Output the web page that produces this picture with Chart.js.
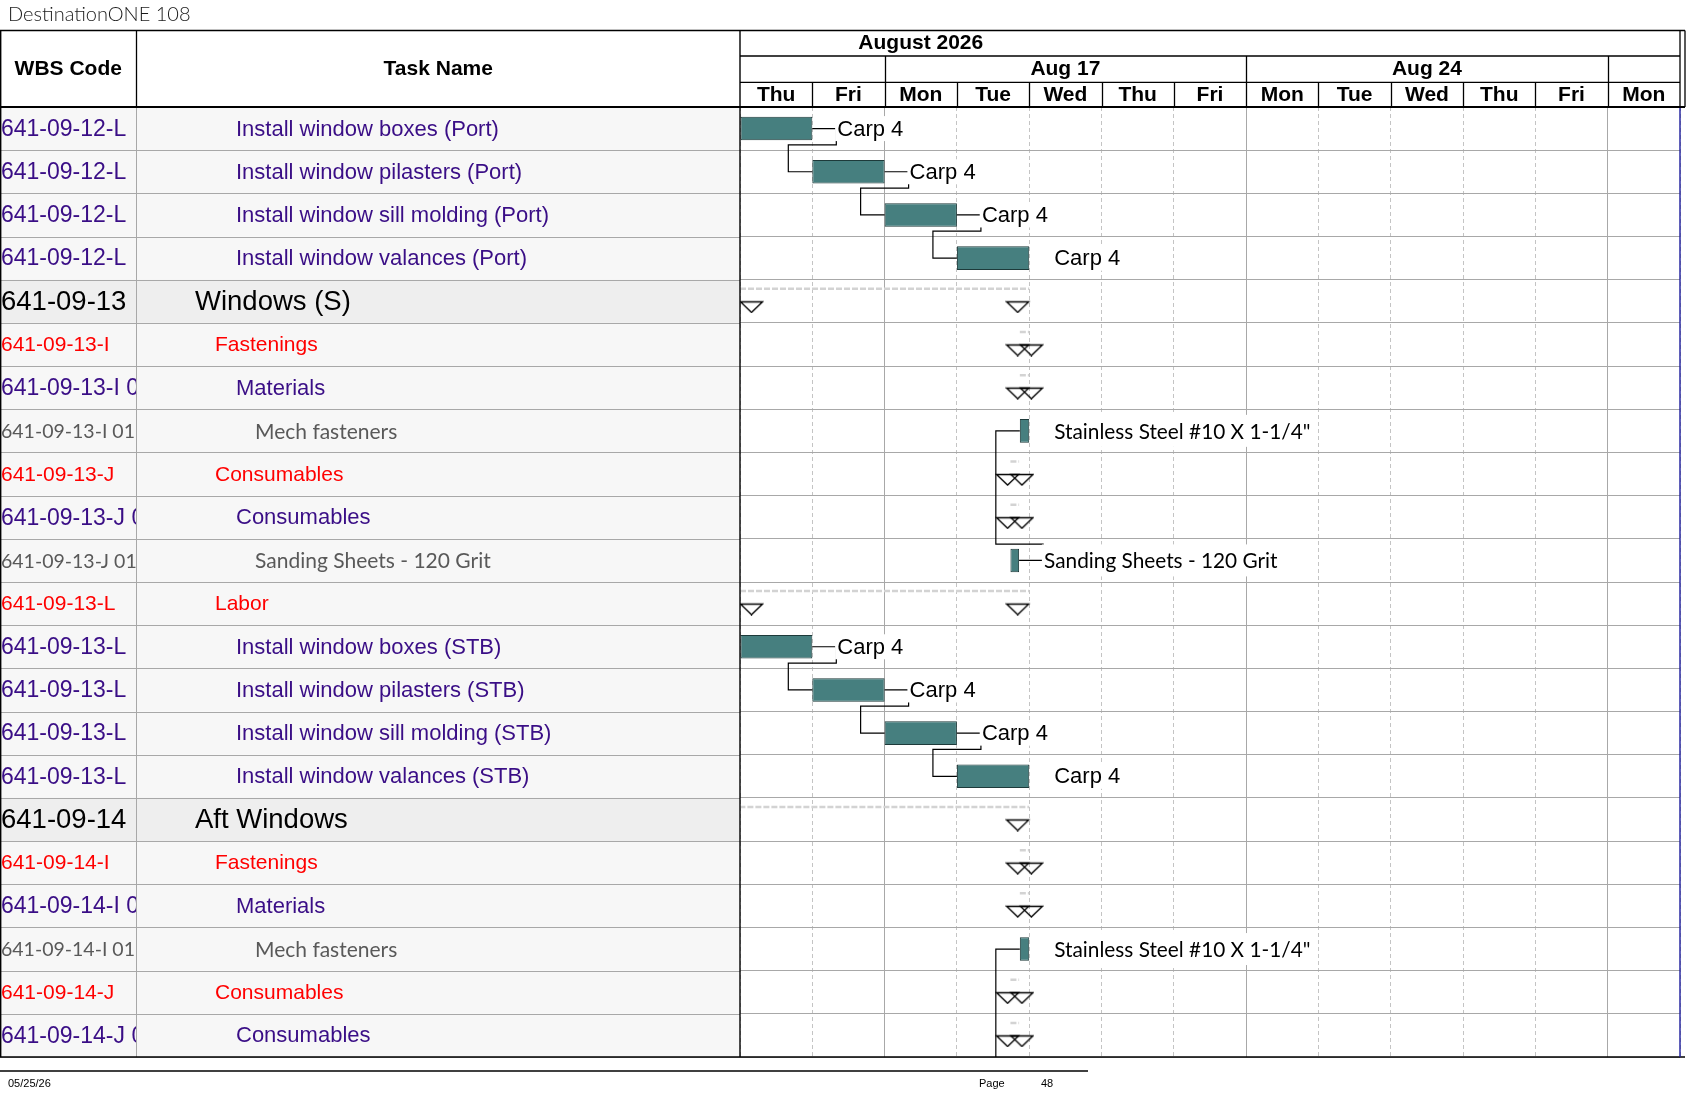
<!DOCTYPE html>
<html>
<head>
<meta charset="utf-8">
<title>DestinationONE 108</title>
<script src="https://cdn.jsdelivr.net/npm/chart.js@4.4.1/dist/chart.umd.min.js"></script>
<style>
  html, body { margin: 0; padding: 0; background: #fff; }
  canvas { display: block; }
</style>
</head>
<body>
<canvas id="gantt" width="1687" height="1097"></canvas>
<script>
'use strict';

// table rows, top to bottom
let wbsCodes = [
  '641-09-12-L', '641-09-12-L', '641-09-12-L', '641-09-12-L',
  '641-09-13',
  '641-09-13-I', '641-09-13-I 01', '641-09-13-I 01-01',
  '641-09-13-J', '641-09-13-J 01', '641-09-13-J 01-01',
  '641-09-13-L', '641-09-13-L', '641-09-13-L', '641-09-13-L', '641-09-13-L',
  '641-09-14',
  '641-09-14-I', '641-09-14-I 01', '641-09-14-I 01-01',
  '641-09-14-J', '641-09-14-J 01'
];
let taskNames = [
  'Install window boxes (Port)', 'Install window pilasters (Port)',
  'Install window sill molding (Port)', 'Install window valances (Port)',
  'Windows (S)',
  'Fastenings', 'Materials', 'Mech fasteners',
  'Consumables', 'Consumables', 'Sanding Sheets - 120 Grit',
  'Labor', 'Install window boxes (STB)', 'Install window pilasters (STB)',
  'Install window sill molding (STB)', 'Install window valances (STB)',
  'Aft Windows',
  'Fastenings', 'Materials', 'Mech fasteners',
  'Consumables', 'Consumables'
];
let rowKinds = [
  'task', 'task', 'task', 'task',
  'group',
  'cost', 'sub', 'item',
  'cost', 'sub', 'item',
  'cost', 'task', 'task', 'task', 'task',
  'group',
  'cost', 'sub', 'item',
  'cost', 'sub'
];

// timescale, in working days from Thu Aug 13
let dayNames = ['Thu', 'Fri', 'Mon', 'Tue', 'Wed', 'Thu', 'Fri', 'Mon', 'Tue', 'Wed', 'Thu', 'Fri', 'Mon'];
let weekNames = ['Aug 10', 'Aug 17', 'Aug 24', 'Aug 31'];
let weekStarts = [-3, 2, 7, 12];
let monthNames = ['August 2026'];
let monthStarts = [-8];
let monthEnds = [13];

// task bars
let taskStarts = [0, 1, 2, 3, null, null, null, 3.87, null, null, 3.74, null, 0, 1, 2, 3, null, null, null, 3.87, null, null];
let taskEnds = [1, 2, 3, 4, null, null, null, 4, null, null, 3.86, null, 1, 2, 3, 4, null, null, null, 4, null, null];
let taskLabels = [
  'Carp 4', 'Carp 4', 'Carp 4', 'Carp 4', null, null, null,
  'Stainless Steel #10 X 1-1/4"', null, null, 'Sanding Sheets - 120 Grit', null,
  'Carp 4', 'Carp 4', 'Carp 4', 'Carp 4', null, null, null,
  'Stainless Steel #10 X 1-1/4"', null, null
];

// summary rows
let summaryStarts = [null, null, null, null, 0, 3.87, 3.87, null, 3.74, 3.74, null, 0, null, null, null, null, -2, 3.87, 3.87, null, 3.74, 3.74];
let summaryEnds = [null, null, null, null, 4, 4, 4, null, 3.86, 3.86, null, 4, null, null, null, null, 4, 4, 4, null, 3.86, 3.86];

// finish-to-start links (row 22 is the Aft sanding sheets task on the next page)
let linkFrom = [0, 1, 2, 10, 12, 13, 14, 22];
let linkTo = [1, 2, 3, 7, 13, 14, 15, 19];
let nextPageEnd = 3.86;

let rowLabels = taskNames.map((n, i) => (i + 1) + ' ' + n);

const PURPLE = '#3a0e86';
const BAR_PCT = 0.545;
const ARIAL = '"Liberation Sans", Arial, sans-serif';
const CALIBRI = 'Lato, "Open Sans", sans-serif';

function rowFont(kind, part) {
  if (kind === 'group') return '27.5px ' + ARIAL;
  if (kind === 'cost') return '21px ' + ARIAL;
  if (kind === 'item') return (part === 'wbs' ? '19.5px ' : '21px ') + CALIBRI;
  return (part === 'wbs' ? '23px ' : '22px ') + ARIAL;
}
function rowColor(kind) {
  if (kind === 'group') return '#000000';
  if (kind === 'cost') return '#ff0000';
  if (kind === 'item') return '#595959';
  return PURPLE;
}
function rowIndent(kind) {
  if (kind === 'group') return 195;
  if (kind === 'cost') return 215;
  if (kind === 'item') return 255;
  return 236;
}

function makeMarker(side) {
  const c = document.createElement('canvas');
  c.width = 48;
  c.height = 24;
  const g = c.getContext('2d');
  const x0 = side === 'start' ? 24.5 : 1.5;
  g.strokeStyle = '#000';
  g.lineWidth = 1.3;
  g.beginPath();
  g.moveTo(x0, 12.5);
  g.lineTo(x0 + 22, 12.5);
  g.lineTo(x0 + 11, 23);
  g.closePath();
  g.stroke();
  return c;
}

function line(ctx, x1, y1, x2, y2) {
  ctx.beginPath();
  ctx.moveTo(x1, y1);
  ctx.lineTo(x2, y2);
  ctx.stroke();
}

function clipText(ctx, text, x, y, left, top, w, h) {
  ctx.save();
  ctx.beginPath();
  ctx.rect(left, top, w, h);
  ctx.clip();
  ctx.fillText(text, x, y);
  ctx.restore();
}

const ganttPlugin = {
  id: 'ganttTable',
  beforeDraw(chart) {
    const ctx = chart.ctx;
    ctx.save();
    ctx.fillStyle = '#ffffff';
    ctx.fillRect(0, 0, chart.width, chart.height);
    ctx.restore();
  },
  beforeDatasetsDraw(chart) {
    const {ctx, chartArea: a, scales: {x, y}} = chart;
    const rowH = y.getPixelForValue(1) - y.getPixelForValue(0);
    ctx.save();
    ctx.beginPath();
    ctx.rect(a.left, a.top, a.right - a.left, a.bottom - a.top);
    ctx.clip();
    ctx.strokeStyle = '#d3d3d3';
    ctx.lineWidth = 2.5;
    ctx.setLineDash([6, 2]);
    summaryStarts.forEach((s, i) => {
      if (s === null) return;
      const yy = y.getPixelForValue(i) - rowH * 0.29;
      line(ctx, x.getPixelForValue(s), yy, x.getPixelForValue(summaryEnds[i]), yy);
    });
    ctx.restore();
  },
  afterDatasetsDraw(chart) {
    const {ctx, chartArea: a, scales: {x, y}} = chart;
    const rowH = y.getPixelForValue(1) - y.getPixelForValue(0);
    const barH = rowH * BAR_PCT;
    ctx.save();
    ctx.beginPath();
    ctx.rect(a.left, a.top, a.right - a.left, a.bottom - a.top);
    ctx.clip();

    // links
    ctx.strokeStyle = '#000';
    ctx.lineWidth = 1.2;
    for (let k = 0; k < linkFrom.length; k++) {
      const from = linkFrom[k];
      const to = linkTo[k];
      const endV = from < taskEnds.length ? taskEnds[from] : nextPageEnd;
      const x1 = x.getPixelForValue(endV);
      const y1 = y.getPixelForValue(from);
      const x2 = x.getPixelForValue(taskStarts[to]);
      const y2 = y.getPixelForValue(to);
      const yMid = y1 + (to > from ? 1 : -1) * (barH / 2 + 4.5);
      ctx.beginPath();
      ctx.moveTo(x1, y1);
      ctx.lineTo(x1 + 24, y1);
      ctx.lineTo(x1 + 24, yMid);
      ctx.lineTo(x2 - 24, yMid);
      ctx.lineTo(x2 - 24, y2);
      ctx.lineTo(x2, y2);
      ctx.stroke();
    }

    // bar labels on an opaque box
    ctx.textAlign = 'left';
    ctx.textBaseline = 'middle';
    taskLabels.forEach((t, i) => {
      if (!t) return;
      const isItem = rowKinds[i] === 'item';
      ctx.font = isItem ? '20.8px ' + CALIBRI : '22px ' + ARIAL;
      const lx = x.getPixelForValue(taskEnds[i]) + 25;
      const ly = y.getPixelForValue(i);
      const boxH = isItem ? 32 : 25;
      ctx.fillStyle = '#ffffff';
      ctx.fillRect(lx - 2.2, ly - boxH / 2, ctx.measureText(t).width + 5, boxH);
      ctx.fillStyle = '#000';
      ctx.fillText(t, lx, ly + 1);
    });
    ctx.restore();
  },
  afterDraw(chart) {
    const {ctx, chartArea: a, scales: {x, y}} = chart;
    const rowH = y.getPixelForValue(1) - y.getPixelForValue(0);
    const colW = 136.5;
    const hTop = 30.5;
    const mBot = 56;
    const wBot = 82.3;
    const rightX = a.right;
    ctx.save();

    // table body
    for (let i = 0; i < rowLabels.length; i++) {
      const yc = y.getPixelForValue(i);
      const top = yc - rowH / 2;
      const kind = rowKinds[i];
      ctx.fillStyle = kind === 'group' ? '#eeeeee' : '#f7f7f7';
      ctx.fillRect(1, top, a.left - 1, rowH);
      ctx.fillStyle = rowColor(kind);
      ctx.textAlign = 'left';
      ctx.textBaseline = 'middle';
      ctx.font = rowFont(kind, 'wbs');
      clipText(ctx, wbsCodes[i], 1, yc + 1, 1.5, top, colW - 1.5, rowH);
      ctx.font = rowFont(kind, 'name');
      clipText(ctx, taskNames[i], rowIndent(kind), yc + 1, colW + 1, top, a.left - colW - 2, rowH);
    }
    ctx.strokeStyle = '#a8a8a8';
    ctx.lineWidth = 1;
    for (let i = 0; i <= rowLabels.length; i++) {
      const yy = Math.round(y.getPixelForValue(i) - rowH / 2) + 0.5;
      line(ctx, 0, yy, a.left, yy);
    }
    line(ctx, colW, a.top, colW, a.bottom);

    // header
    ctx.fillStyle = '#fff';
    ctx.fillRect(1, hTop, rightX - 1, a.top - hTop);
    ctx.fillStyle = '#000';
    ctx.textAlign = 'center';
    ctx.textBaseline = 'middle';
    ctx.font = 'bold 21px ' + ARIAL;
    ctx.fillText('WBS Code', colW / 2, 69);
    ctx.fillText('Task Name', (colW + a.left) / 2, 69);

    const headerClip = (text, cx, cy, top, bottom) =>
      clipText(ctx, text, cx, cy, a.left + 1, top, rightX - a.left - 1, bottom - top);
    monthNames.forEach((m, i) => {
      const cx = (x.getPixelForValue(monthStarts[i]) + x.getPixelForValue(monthEnds[i])) / 2;
      headerClip(m, cx, 43.5, hTop, mBot);
    });
    weekNames.forEach((w, i) => {
      const cx = (x.getPixelForValue(weekStarts[i]) + x.getPixelForValue(weekStarts[i] + 5)) / 2;
      headerClip(w, cx, 69.5, mBot, wBot);
    });
    dayNames.forEach((d, i) => {
      const cx = (x.getPixelForValue(i) + x.getPixelForValue(i + 1)) / 2;
      ctx.fillText(d, cx, 95.5);
    });

    ctx.strokeStyle = '#000';
    ctx.lineWidth = 1.3;
    line(ctx, 0, hTop, rightX + 5, hTop);
    line(ctx, a.left, mBot, rightX, mBot);
    line(ctx, a.left, wBot, rightX, wBot);
    line(ctx, colW, hTop, colW, a.top);
    line(ctx, rightX, hTop, rightX, a.top);
    line(ctx, rightX + 5, hTop, rightX + 5, a.top);
    for (let i = 1; i < dayNames.length; i++) {
      const xx = Math.round(x.getPixelForValue(i)) + 0.5;
      line(ctx, xx, wBot, xx, a.top);
    }
    weekStarts.forEach(v => {
      if (v <= 0 || v >= dayNames.length) return;
      const xx = Math.round(x.getPixelForValue(v)) + 0.5;
      line(ctx, xx, mBot, xx, wBot);
    });
    ctx.lineWidth = 2.2;
    line(ctx, 0, a.top, rightX + 5, a.top);

    // frame
    ctx.lineWidth = 1.4;
    line(ctx, 0.7, hTop, 0.7, a.bottom);
    line(ctx, a.left, hTop, a.left, a.bottom);
    line(ctx, 0, a.bottom, rightX + 5, a.bottom);
    ctx.strokeStyle = '#1c1c9c';
    line(ctx, rightX, a.top + 1, rightX, a.bottom);

    // title and footer
    ctx.fillStyle = '#1a1a1a';
    ctx.textAlign = 'left';
    ctx.font = '300 20px Lato, sans-serif';
    ctx.fillText('DestinationONE 108', 8, 15);
    ctx.strokeStyle = '#000';
    ctx.lineWidth = 1.5;
    line(ctx, 0, 1071, 1088, 1071);
    ctx.fillStyle = '#000';
    ctx.font = '11px ' + ARIAL;
    ctx.fillText('05/25/26', 8, 1084);
    ctx.fillText('Page', 979, 1084);
    ctx.fillText('48', 1041, 1084);
    ctx.restore();
  }
};

let canvasElem = document.getElementById('gantt');
let startMark = makeMarker('start');
let endMark = makeMarker('end');

function markerPoints(values) {
  let pts = [];
  for (let i = 0; i < values.length; i++) {
    if (values[i] !== null) pts.push({x: values[i], y: rowLabels[i]});
  }
  return pts;
}

let chartObj = {
  type: 'bar',
  data: {
    labels: rowLabels,
    datasets: [{
      label: 'Tasks',
      data: taskStarts.map((s, i) => (s === null ? null : [s, taskEnds[i]])),
      backgroundColor: '#467f7f',
      borderColor: '#1d3a3a',
      borderWidth: 1,
      borderSkipped: false,
      barPercentage: BAR_PCT,
      categoryPercentage: 1
    },
    {
      type: 'scatter',
      label: 'Summary start',
      data: markerPoints(summaryStarts),
      pointStyle: startMark,
      pointRadius: 3,
      showLine: false
    },
    {
      type: 'scatter',
      label: 'Summary finish',
      data: markerPoints(summaryEnds),
      pointStyle: endMark,
      pointRadius: 3,
      showLine: false
    }]
  },
  options: {
    indexAxis: 'y',
    responsive: false,
    animation: false,
    events: [],
    layout: {
      padding: {left: 740, top: 107, right: 7, bottom: 40}
    },
    plugins: {
      legend: {display: false},
      tooltip: {enabled: false}
    },
    scales: {
      x: {
        type: 'linear',
        position: 'top',
        min: 0,
        max: dayNames.length,
        offset: false,
        afterBuildTicks: s => { s.ticks = dayNames.map((d, i) => ({value: i})).concat([{value: dayNames.length}]); },
        afterFit: s => { s.height = 0; },
        ticks: {display: false},
        grid: {color: '#c4c4c4', lineWidth: 1, drawTicks: false, offset: false},
        border: {display: false, dash: [4, 3]}
      },
      xw: {
        type: 'linear',
        axis: 'x',
        position: 'top',
        min: 0,
        max: dayNames.length,
        offset: false,
        afterBuildTicks: s => { s.ticks = weekStarts.filter(v => v > 0 && v < dayNames.length).map(v => ({value: v})); },
        afterFit: s => { s.height = 0; },
        ticks: {display: false},
        grid: {color: '#a8a8a8', lineWidth: 1, drawTicks: false, offset: false},
        border: {display: false}
      },
      y: {
        type: 'category',
        offset: true,
        afterFit: s => { s.width = 0; },
        ticks: {display: false},
        grid: {color: '#a8a8a8', lineWidth: 1, drawTicks: false, offset: true},
        border: {display: false}
      }
    }
  },
  plugins: [ganttPlugin]
};

new Chart(canvasElem, chartObj); //eslint-disable-line
</script>
</body>
</html>
